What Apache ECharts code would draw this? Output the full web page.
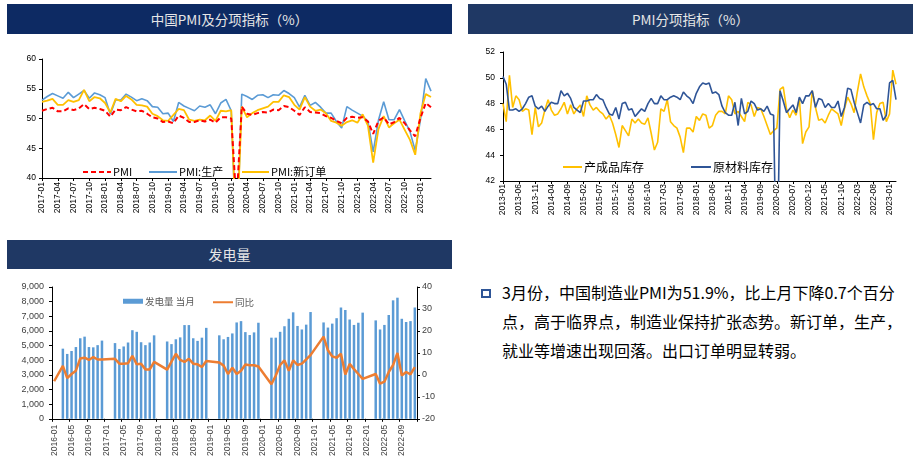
<!DOCTYPE html>
<html><head><meta charset="utf-8">
<script src="https://cdn.jsdelivr.net/npm/echarts/dist/echarts.min.js"></script>
<style>
html,body{margin:0;padding:0;background:#fff;width:918px;height:459px;overflow:hidden;font-family:"Noto Sans CJK SC",sans-serif;}
.bar{position:absolute;color:#e6e6e6;font-size:13.5px;text-align:center;line-height:30px;font-family:"Noto Sans CJK SC",sans-serif;}
.chart{position:absolute;}
.txt{position:absolute;left:502px;top:278px;font-size:16px;color:#000;white-space:nowrap;line-height:29px;font-family:"Noto Sans CJK SC",sans-serif;}
.sq{position:absolute;left:481px;top:289px;width:10px;height:9px;border:2px solid #2E5597;box-sizing:border-box;}
</style></head><body>
<div class="bar" style="left:7px;top:4px;width:445px;height:30px;background:#0D2A63">中国PMI及分项指标（%）</div>
<div class="bar" style="left:468px;top:4px;width:445px;height:30px;background:#1F3864">PMI分项指标（%）</div>
<div class="bar" style="left:7px;top:240px;width:445px;height:29px;line-height:29px;font-size:14px;background:#1F3864">发电量</div>
<div id="c1" class="chart" style="left:0;top:35px;width:460px;height:195px"></div>
<div id="c2" class="chart" style="left:460px;top:35px;width:458px;height:195px"></div>
<div id="c3" class="chart" style="left:0;top:270px;width:460px;height:189px"></div>
<div class="sq"></div>
<div class="txt">3月份，中国制造业PMI为51.9%，比上月下降0.7个百分<br>点，高于临界点，制造业保持扩张态势。新订单，生产，<br>就业等增速出现回落。出口订单明显转弱。</div>
<script>
function monthLabels(y, m, n){const a=[];for(let i=0;i<n;i++){const mm=m-1+i;a.push((y+Math.floor(mm/12))+'-'+String(mm%12+1).padStart(2,'0'));}return a;}
const pmiMonths = monthLabels(2017,1,75);
const invMonths = monthLabels(2013,1,123);
const genMonths = monthLabels(2016,1,84);

const pmi = [51.3,51.6,51.8,51.2,51.2,51.7,51.4,51.7,52.4,51.6,51.8,51.6,
 51.3,50.3,51.5,51.4,51.9,51.5,51.2,51.3,50.8,50.2,50.0,49.4,
 49.5,49.2,50.5,50.1,49.4,49.4,49.7,49.5,49.8,49.3,50.2,50.2,
 50.0,35.7,52.0,50.8,50.6,50.9,51.1,51.0,51.5,51.4,52.1,51.9,
 51.3,50.6,51.9,51.1,51.0,50.9,50.4,50.1,49.6,49.2,50.1,50.3,
 50.1,50.2,49.5,47.4,49.6,50.2,49.0,49.4,50.1,49.2,48.0,47.0,
 50.1,52.6,51.9];
const pmiProd = [53.1,53.7,54.2,53.8,53.4,54.4,53.5,54.1,54.7,53.4,54.3,54.0,
 53.5,50.7,53.1,53.1,54.1,53.6,53.0,53.3,53.0,52.0,51.9,50.8,
 50.9,49.5,52.7,52.1,51.7,51.3,52.1,51.9,52.3,50.8,52.6,53.2,
 51.3,27.8,54.1,53.7,53.2,53.9,54.0,53.5,54.0,53.9,54.7,54.2,
 53.5,51.9,53.9,52.2,52.7,51.9,50.9,50.9,49.5,48.4,52.0,51.4,
 50.9,50.4,49.5,44.4,49.7,52.8,49.8,49.8,51.5,49.6,47.8,44.6,
 49.8,56.7,54.6];
const pmiOrders = [52.8,53.0,53.3,52.3,52.3,53.1,52.8,53.1,54.8,52.9,53.6,53.4,
 52.6,51.0,53.3,52.9,53.8,53.2,52.3,52.2,52.0,50.8,50.4,49.7,
 49.6,50.6,51.6,51.4,49.8,49.6,49.8,49.7,50.5,49.6,51.3,51.2,
 51.4,29.3,52.0,50.2,50.9,51.4,51.7,52.0,52.8,52.8,53.9,53.6,
 52.3,51.5,53.6,52.0,51.3,51.5,50.9,49.6,49.3,48.8,49.4,49.7,
 49.3,50.7,48.8,42.6,48.2,50.4,48.5,49.2,49.8,48.1,46.4,43.9,
 50.9,54.1,53.6];

const finishedInv = [48.0,46.6,50.2,47.7,48.6,48.3,47.4,47.6,47.5,45.6,47.7,46.2,
 46.5,47.5,48.3,47.5,47.1,47.2,47.6,48.1,47.2,47.9,47.2,47.6,
 47.9,47.0,48.6,47.9,47.5,47.7,47.4,47.2,46.8,47.1,46.5,45.6,
 44.6,46.3,45.9,45.5,46.8,46.5,46.8,46.5,46.4,46.9,45.7,44.4,
 45.0,47.6,47.4,48.3,46.6,46.3,46.1,45.4,44.2,46.1,46.1,45.8,
 47.0,46.7,47.2,47.1,46.1,46.3,47.1,47.4,47.4,47.2,48.6,48.3,
 47.2,47.4,47.0,46.6,48.1,47.9,47.0,47.7,47.6,47.0,46.3,45.6,
 45.9,46.1,49.1,49.3,47.6,46.9,47.5,47.1,48.4,44.9,45.8,46.2,
 49.0,47.7,46.7,46.8,46.5,47.1,47.6,47.4,47.2,46.3,47.6,48.5,
 48.0,47.3,48.9,50.3,49.3,48.6,48.0,45.2,47.3,48.0,48.1,46.6,
 47.2,50.6,49.5];
const rawInv = [50.1,49.5,47.5,47.5,47.6,47.4,47.6,48.0,48.5,48.6,47.8,47.6,
 47.8,47.4,47.8,48.1,48.0,48.0,49.0,48.6,48.8,48.4,47.7,47.5,
 47.3,48.2,48.2,48.3,48.3,48.7,48.4,48.3,47.7,47.2,47.1,47.7,
 46.8,48.0,48.1,47.5,47.6,47.0,47.3,47.6,47.4,48.0,48.4,48.0,
 48.0,48.6,48.3,48.3,48.5,48.6,48.5,48.3,48.9,48.6,48.4,48.0,
 48.8,49.3,49.6,49.5,49.6,48.8,48.9,48.7,47.8,47.3,47.1,47.1,
 48.1,46.3,48.4,47.2,47.4,48.2,48.0,47.5,47.6,47.4,47.8,47.2,
 47.1,32.9,49.0,48.2,47.3,47.6,47.9,47.3,48.5,48.0,48.6,48.6,
 49.0,47.7,48.4,48.3,47.7,48.0,47.7,47.7,48.2,47.0,47.7,49.2,
 49.1,48.1,47.3,46.5,47.9,48.1,47.9,48.0,47.6,47.6,46.7,47.1,
 49.6,49.8,48.3];

const genMonthly = [null,null,4790,4430,4630,4900,5500,5610,4900,4880,5030,5340,
 null,null,5170,4770,4940,5210,6050,5940,5230,5030,5210,5700,
 null,null,5280,5100,5430,5560,6400,6400,5500,5320,5540,6210,
 null,null,5700,5430,5590,5830,6580,6670,5920,5720,5900,6560,
 null,null,5540,5540,5940,6320,6830,7270,6340,6100,6430,7290,
 null,null,6580,6230,6500,6870,7600,7430,6780,6410,6560,7250,
 null,null,6720,6100,6410,7090,8090,8270,6830,6610,6670,7600];
const genYoY = [-2.9,null,4.1,-1.5,0.4,1.9,7.5,7.8,6.8,8.1,7.0,7.0,
 null,null,7.3,5.1,5.1,5.3,8.7,4.8,5.1,2.5,2.5,5.9,
 null,null,2.4,6.0,9.6,6.8,5.9,7.3,5.1,4.8,3.6,6.3,
 null,null,5.6,4.2,0.4,3.2,0.4,1.9,4.7,4.4,4.4,3.8,
 null,null,-4.3,-0.3,4.5,6.6,1.9,6.6,4.5,5.1,7.0,9.0,
 null,null,17.4,11.2,8.4,7.8,9.6,0.2,5.0,2.6,0.4,-1.8,
 null,null,0.4,-4.0,-3.1,1.3,4.5,10.0,-0.3,1.3,0.2,3.5];

const F = 'Liberation Sans, Arial, sans-serif';
const CJK = 'Noto Sans CJK SC, sans-serif';

function catAxis(data, interval, margin, fs, color){
  return {type:'category',data:data,
    axisLine:{show:true,lineStyle:{color:'#000',width:1}},
    axisTick:{show:true,interval:interval,length:3,lineStyle:{color:'#000'}},
    axisLabel:{interval:interval,rotate:90,fontSize:fs,color:color,margin:margin,fontFamily:F},
    splitLine:{show:false}};
}
function valAxis(min,max,interval,margin,fs,color,fmt){
  return {type:'value',min:min,max:max,interval:interval,
    axisLine:{show:true,lineStyle:{color:'#000',width:1}},
    axisTick:{show:true,length:3,lineStyle:{color:'#000'}},
    splitLine:{show:false},
    axisLabel:{fontSize:fs,color:color,margin:margin,fontFamily:F,formatter:fmt}};
}
function leg(name,left,top,w,h,fs,color,icon){
  const l={data:[name],left:left,top:top,padding:0,itemWidth:w,itemHeight:h,itemGap:0,
    textStyle:{fontSize:fs,color:color,fontFamily:CJK,padding:[0,0,0,-3]},selectedMode:false};
  if(icon) l.icon=icon; else l.itemStyle={opacity:0};
  return l;
}

// Chart 1
const x1 = catAxis(pmiMonths,2,4,8.5,'#000'); x1.boundaryGap=false;
echarts.init(document.getElementById('c1')).setOption({
  animation:false,
  grid:{left:42,top:24,right:29,bottom:52},
  xAxis:x1,
  yAxis:valAxis(40,60,5,6,8.5,'#000'),
  legend:[leg('PMI',82,131.5,28,3,11,'#000'),leg('PMI:生产',148,131.5,28,3,11,'#000'),leg('PMI:新订单',241,131.5,27,3,11,'#000')],
  series:[
    {name:'PMI:生产',type:'line',data:pmiProd,symbol:'none',lineStyle:{color:'#5B9BD5',width:1.6},itemStyle:{color:'#5B9BD5'}},
    {name:'PMI:新订单',type:'line',data:pmiOrders,symbol:'none',lineStyle:{color:'#FFC000',width:1.8},itemStyle:{color:'#FFC000'}},
    {name:'PMI',type:'line',data:pmi,symbol:'none',lineStyle:{color:'#FF0000',width:2,type:[5,3]},itemStyle:{color:'#FF0000'}}
  ]
});

// Chart 2
const x2 = catAxis(invMonths,4,3,8.5,'#000'); x2.boundaryGap=false;
echarts.init(document.getElementById('c2')).setOption({
  animation:false,
  grid:{left:43,top:17,right:22,bottom:49},
  xAxis:x2,
  yAxis:valAxis(42,52,2,8,8.5,'#000'),
  legend:[leg('产成品库存',102,126,19,3,12,'#000'),leg('原材料库存',230,126,20,3,12,'#000')],
  series:[
    {name:'产成品库存',type:'line',data:finishedInv,symbol:'none',lineStyle:{color:'#FFC000',width:1.6},itemStyle:{color:'#FFC000'}},
    {name:'原材料库存',type:'line',data:rawInv,symbol:'none',lineStyle:{color:'#2F5597',width:1.6},itemStyle:{color:'#2F5597'}}
  ]
});

// Chart 3
const x3 = catAxis(genMonths,3,6,8.5,'#404040'); x3.boundaryGap=true;
const yL = valAxis(0,9000,1000,8,9,'#404040',function(v){return v.toString().replace(/\B(?=(\d{3})+(?!\d))/g, ',');});
const yR = valAxis(-20,40,10,5,9,'#404040'); yR.position='right';
echarts.init(document.getElementById('c3')).setOption({
  animation:false,
  grid:{left:52,top:17,right:43,bottom:36},
  xAxis:x3,
  yAxis:[yL,yR],
  legend:[leg('发电量 当月',123,26.5,20,5,9.5,'#595959','rect'),leg('同比',212,27.5,20,3,9.5,'#595959')],
  series:[
    {name:'发电量 当月',type:'bar',data:genMonthly,barWidth:2.5,itemStyle:{color:'#5B9BD5'},yAxisIndex:0},
    {name:'同比',type:'line',data:genYoY,connectNulls:true,symbol:'none',yAxisIndex:1,lineStyle:{color:'#ED7D31',width:2.5},itemStyle:{color:'#ED7D31'}}
  ]
});
</script>
</body></html>
